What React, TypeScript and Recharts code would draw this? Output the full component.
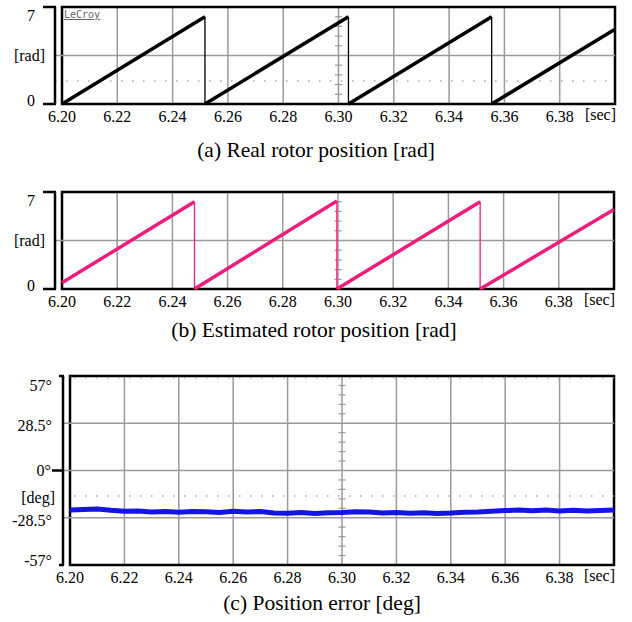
import React from 'react';
import { LineChart, Line, XAxis, YAxis, CartesianGrid, ReferenceLine, ReferenceArea } from 'recharts';

const SERIF = '"Liberation Serif", "Times New Roman", serif';

// time axis (seconds)
const timeTicks = [6.2, 6.22, 6.24, 6.26, 6.28, 6.3, 6.32, 6.34, 6.36, 6.38, 6.4];

// (a) real rotor position [rad]
const realTime = [6.2, 6.2517, 6.2517, 6.3036, 6.3036, 6.3554, 6.3554, 6.4];
const realRad = [0, 6.3, 0, 6.3, 0, 6.3, 0, 5.39];

// (b) estimated rotor position [rad]
const estTime = [6.2, 6.248, 6.248, 6.2996, 6.2996, 6.3515, 6.3515, 6.4];
const estRad = [0.45, 6.3, 0, 6.35, 0, 6.3, 0, 5.74];

// (c) position error [deg]
const errTime = [
  6.2, 6.205, 6.21, 6.215, 6.22, 6.225, 6.23, 6.235, 6.24, 6.245, 6.25, 6.255, 6.26, 6.265,
  6.27, 6.275, 6.28, 6.285, 6.29, 6.295, 6.3, 6.305, 6.31, 6.315, 6.32, 6.325, 6.33, 6.335,
  6.34, 6.345, 6.35, 6.355, 6.36, 6.365, 6.37, 6.375, 6.38, 6.385, 6.39, 6.395, 6.4,
];
const errDeg = [
  -23.8, -23.5, -23.2, -24.0, -24.6, -24.4, -25.0, -24.7, -25.2, -24.8, -24.9, -25.3, -24.6, -25.0,
  -24.8, -25.6, -25.8, -25.4, -25.9, -25.5, -25.3, -24.9, -25.1, -25.6, -25.4, -25.8, -25.5, -26.0,
  -25.7, -25.2, -25.0, -24.6, -24.2, -23.8, -24.3, -23.9, -24.4, -24.0, -24.5, -24.1, -23.9,
];

const radTicks = [0, 3.5, 7];
const degTicks = [-57, -28.5, -16, 0, 28.5, 57];
const degGrid = [-28.5, 0, 28.5];
const radMinor = [0.7, 1.4, 2.1, 2.8, 4.2, 4.9, 5.6, 6.3];
const degMinor = [-51.3, -45.6, -39.9, -34.2, -22.8, -17.1, -11.4, -5.7, 5.7, 11.4, 17.1, 22.8, 34.2, 39.9, 45.6, 51.3];

// split a sawtooth into thick ramps and thin vertical drops
function sawRows(time: number[], vals: number[]) {
  const rows: any[] = [];
  time.forEach((t, i) => {
    if (i > 0 && t === time[i - 1]) {
      rows[rows.length - 1].drop = vals[i - 1];
      rows.push({ t, ramp: null, drop: vals[i] });
      rows.push({ t, ramp: vals[i], drop: null });
    } else {
      rows.push({ t, ramp: vals[i], drop: null });
    }
  });
  return rows;
}

const realData = sawRows(realTime, realRad);
const estData = sawRows(estTime, estRad);
const errData = errTime.map((t, i) => ({ t, v: errDeg[i] }));

const GRID = '#9a9a9a';
const txt = { fontFamily: SERIF, fontSize: 16 };

const TimeTick = (props: any) => {
  const { x, y, payload } = props;
  const last = payload.value >= 6.399;
  return (
    <text
      x={last ? x + 1 : x}
      y={last ? y + 16 : y + 18}
      textAnchor={last ? 'end' : 'middle'}
      style={txt}
      fill="#000"
    >
      {last ? '[sec]' : payload.value.toFixed(2)}
    </text>
  );
};

const RadTick = (props: any) => {
  const { x, y, payload } = props;
  const v = payload.value;
  if (v === 3.5) {
    return (
      <text x={x - 10} y={y} dy="0.35em" textAnchor="end" style={txt} fill="#000">
        [rad]
      </text>
    );
  }
  const shift = v === 7 ? 8 : -4;
  return (
    <g>
      <line x1={x - 12} x2={x + 1} y1={y} y2={y} stroke="#000" strokeWidth={2.5} />
      <text x={x - 20} y={y + shift} dy="0.35em" textAnchor="end" style={txt} fill="#000">
        {v}
      </text>
    </g>
  );
};

const DegTick = (props: any) => {
  const { x, y, payload } = props;
  const v = payload.value;
  if (v === -16) {
    return (
      <text x={x - 8} y={y} dy="0.35em" textAnchor="end" style={txt} fill="#000">
        [deg]
      </text>
    );
  }
  const shift = v === 57 ? 9 : v === -57 ? -5 : v === 28.5 ? 2 : v === -28.5 ? 3 : 0;
  const cap = v === 0 ? 11 : Math.abs(v) === 57 ? 4 : 0;
  return (
    <g>
      {cap > 0 && <line x1={x - cap} x2={x + 1} y1={y} y2={y} stroke="#000" strokeWidth={2.5} />}
      <text x={v === 0 ? x - 12 : x - 11} y={y + shift} dy="0.35em" textAnchor="end" style={txt} fill="#000">
        {`${v}°`}
      </text>
    </g>
  );
};

const Caption = ({ top, shift, children }: { top: number; shift: number; children: React.ReactNode }) => (
  <div
    style={{
      position: 'absolute',
      left: shift,
      top,
      width: 632,
      textAlign: 'center',
      fontFamily: SERIF,
      fontSize: 21.5,
      lineHeight: '24px',
      color: '#000',
    }}
  >
    {children}
  </div>
);

const RadPanel = ({ data, color, dotted, yAxisW, right }: any) => (
  <LineChart width={632} height={130} data={data} margin={{ top: 7, right, bottom: 0, left: 0 }}>
    <CartesianGrid horizontal={false} stroke={GRID} strokeWidth={1.5} />
    <XAxis
      dataKey="t"
      type="number"
      domain={[6.2, 6.4]}
      ticks={timeTicks}
      interval={0}
      padding={{ left: 7, right: 0 }}
      axisLine={false}
      tickLine={false}
      tickSize={0}
      tickMargin={0}
      height={26}
      tick={<TimeTick />}
    />
    <YAxis
      type="number"
      domain={[0, 7]}
      ticks={radTicks}
      interval={0}
      width={yAxisW}
      axisLine={{ stroke: '#000', strokeWidth: 2.5 }}
      tickLine={false}
      tickSize={0}
      tickMargin={0}
      tick={<RadTick />}
    />
    <ReferenceLine y={3.5} stroke={GRID} strokeWidth={1.5} />
    {dotted !== undefined && (
      <ReferenceLine y={dotted} stroke="#aaa" strokeWidth={1.5} strokeDasharray="1.5 9.5" />
    )}
    {radMinor.map((m) => (
      <ReferenceLine
        key={m}
        segment={[{ x: 6.2987, y: m }, { x: 6.3013, y: m }]}
        stroke={GRID}
        strokeWidth={1.2}
      />
    ))}
    <Line dataKey="drop" type="linear" stroke={color} strokeWidth={1.3} dot={false} isAnimationActive={false} />
    <Line dataKey="ramp" type="linear" stroke={color} strokeWidth={3.5} dot={false} isAnimationActive={false} />
    <ReferenceArea x1={6.2} x2={6.4} y1={0} y2={7} fill="none" fillOpacity={0} stroke="#000" strokeWidth={2.5} />
  </LineChart>
);

export default function App() {
  return (
    <div style={{ position: 'absolute', left: 0, top: 0, width: 632, height: 622, background: '#fff' }}>
      <div style={{ position: 'absolute', left: 0, top: 0 }}>
        <RadPanel data={realData} color="#000" dotted={1.66} yAxisW={55} right={17} />
      </div>
      <div
        style={{
          position: 'absolute',
          left: 64,
          top: 9,
          fontFamily: '"DejaVu Sans Mono", monospace',
          fontSize: 10,
          lineHeight: '12px',
          color: '#666',
          textDecoration: 'underline',
        }}
      >
        LeCroy
      </div>
      <Caption top={138} shift={0}>(a) Real rotor position [rad]</Caption>

      <div style={{ position: 'absolute', left: 0, top: 185 }}>
        <RadPanel data={estData} color="#ee1c7a" yAxisW={55} right={18} />
      </div>
      <Caption top={318} shift={-2}>(b) Estimated rotor position [rad]</Caption>

      <div style={{ position: 'absolute', left: 0, top: 369 }}>
        <LineChart width={632} height={222} data={errData} margin={{ top: 7, right: 18, bottom: 0, left: 0 }}>
          <CartesianGrid horizontal={false} stroke={GRID} strokeWidth={1.5} />
          <XAxis
            dataKey="t"
            type="number"
            domain={[6.2, 6.4]}
            ticks={timeTicks}
            interval={0}
            padding={{ left: 7, right: 0 }}
            axisLine={false}
            tickLine={false}
            tickSize={0}
            tickMargin={0}
            height={26}
            tick={<TimeTick />}
          />
          <YAxis
            type="number"
            domain={[-57, 57]}
            ticks={degTicks}
            interval={0}
            width={63}
            axisLine={{ stroke: '#000', strokeWidth: 2.5 }}
            tickLine={false}
            tickSize={0}
            tickMargin={0}
            tick={<DegTick />}
          />
          {degGrid.map((g) => (
            <ReferenceLine key={g} y={g} stroke={GRID} strokeWidth={1.5} />
          ))}
          <ReferenceLine y={-15.4} stroke="#aaa" strokeWidth={1.5} strokeDasharray="1.5 9.5" />
          <ReferenceLine y={55.8} stroke="#aaa" strokeWidth={1.5} strokeDasharray="1.5 9.5" />
          {degMinor.map((m) => (
            <ReferenceLine
              key={m}
              segment={[{ x: 6.2987, y: m }, { x: 6.3013, y: m }]}
              stroke={GRID}
              strokeWidth={1.2}
            />
          ))}
          <Line dataKey="v" type="linear" stroke="#1414e6" strokeWidth={5} dot={false} isAnimationActive={false} />
          <ReferenceArea x1={6.2} x2={6.4} y1={-57} y2={57} fill="none" fillOpacity={0} stroke="#000" strokeWidth={2.5} />
        </LineChart>
      </div>
      <Caption top={591} shift={6}>(c) Position error [deg]</Caption>
    </div>
  );
}
